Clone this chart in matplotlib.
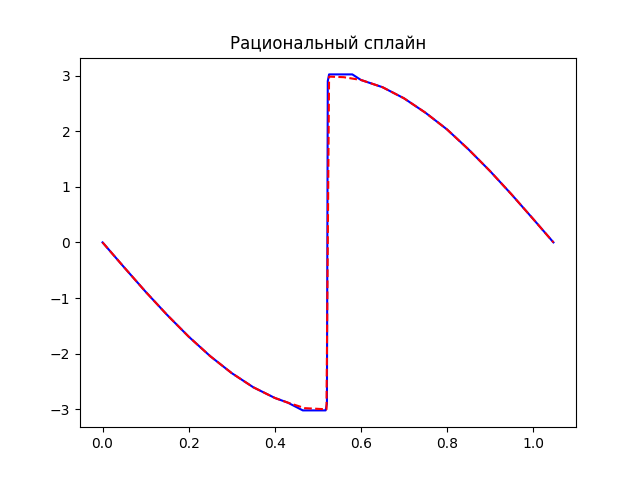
import matplotlib.pyplot as plt

# синяя линия (исходная функция)
x_blue = [0.0, 0.05, 0.1, 0.15, 0.2, 0.25, 0.3, 0.35, 0.4, 0.43, 0.465, 0.518, 0.521,
          0.523, 0.526, 0.58, 0.6, 0.65, 0.7, 0.75, 0.8, 0.85, 0.9, 0.95, 1.0, 1.047]
y_blue = [0.0, -0.447, -0.887, -1.304, -1.694, -2.045, -2.35, -2.604, -2.796, -2.88, -3.02,
          -3.02, -2.9, 2.9, 3.02, 3.02, 2.92, 2.79, 2.59, 2.33, 2.03, 1.67, 1.28, 0.86, 0.42, 0.0]

# красная пунктирная (сплайн)
x_red = [0.0, 0.05, 0.1, 0.15, 0.2, 0.25, 0.3, 0.35, 0.4, 0.43, 0.45, 0.47, 0.52,
         0.523, 0.526, 0.56, 0.6, 0.65, 0.7, 0.75, 0.8, 0.85, 0.9, 0.95, 1.0, 1.047]
y_red = [0.0, -0.447, -0.887, -1.304, -1.694, -2.045, -2.35, -2.604, -2.796, -2.88, -2.93, -2.98,
         -3.0, 0.0, 2.98, 2.97, 2.92, 2.79, 2.59, 2.33, 2.03, 1.67, 1.28, 0.86, 0.42, 0.0]

plt.figure(figsize=(6.4, 4.8), dpi=100)
plt.plot(x_blue, y_blue, "b-")
plt.plot(x_red, y_red, "r--")
plt.title("Рациональный сплайн")
plt.savefig("out.png")
